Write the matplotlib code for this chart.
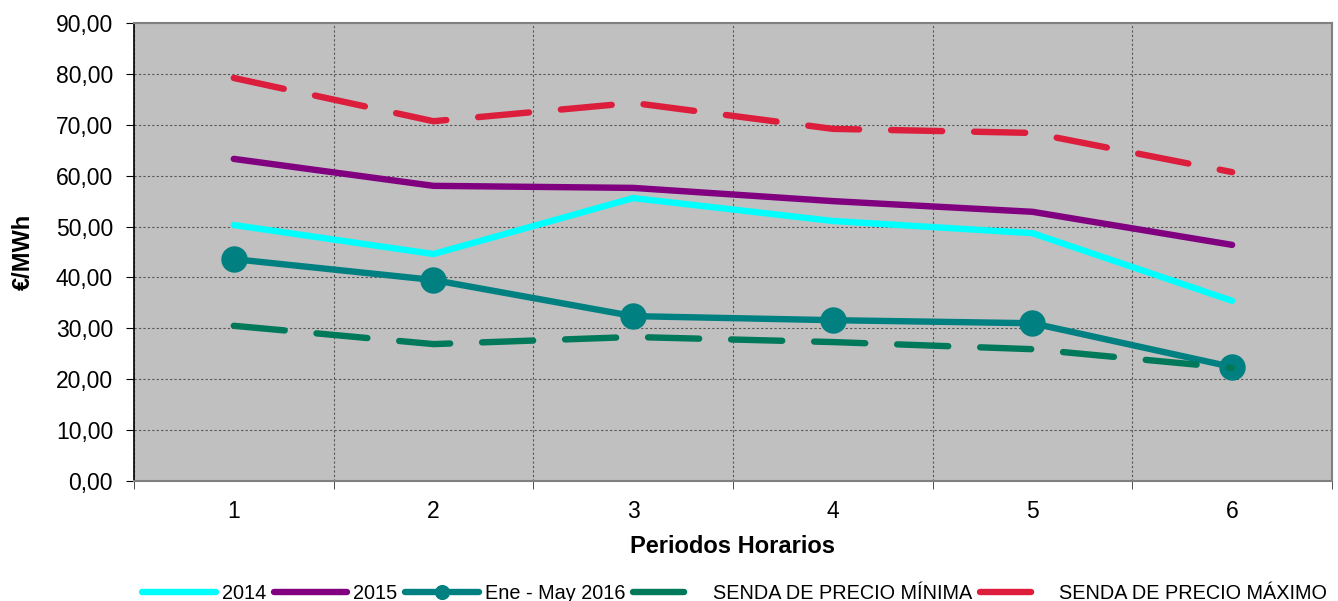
import numpy as np
import matplotlib.pyplot as plt
from matplotlib.ticker import FixedLocator, FuncFormatter

plt.rcParams['font.family'] = ['Liberation Sans', 'DejaVu Sans']

periodos = [1, 2, 3, 4, 5, 6]
v2014 = [50.3, 44.6, 55.6, 51.1, 48.7, 35.4]
v2015 = [63.3, 58.0, 57.6, 55.0, 52.9, 46.4]
v2016 = [43.6, 39.5, 32.4, 31.6, 31.0, 22.4]
senda_min = [30.5, 26.9, 28.3, 27.3, 25.9, 22.2]
senda_max = [79.2, 70.7, 74.3, 69.2, 68.4, 60.7]

fig = plt.figure(figsize=(13.38, 6.01), dpi=100)
ax = fig.add_axes([0.1001, 0.1997, 0.8954, 0.762])
ax.set_facecolor('#C0C0C0')

lw = 4.6
ax.plot(periodos, v2014, color='#00FFFF', lw=lw, label='2014', solid_capstyle='round')
ax.plot(periodos, v2015, color='#800080', lw=lw, label='2015', solid_capstyle='round')
ax.plot(periodos, v2016, color='#008080', lw=lw, marker='o', markersize=18,
        label='Ene - May 2016', solid_capstyle='round')
ax.plot(periodos, senda_min, color='#00785A', lw=lw, ls=(0, (8, 5)),
        dash_capstyle='round', label='SENDA DE PRECIO MÍNIMA')
ax.plot(periodos, senda_max, color='#DC1E3C', lw=lw, ls=(0, (8, 5)),
        dash_capstyle='round', label='SENDA DE PRECIO MÁXIMO')

ax.set_xlim(0.5, 6.5)
ax.set_ylim(0, 90)
ax.set_yticks(np.arange(0, 91, 10))
ax.yaxis.set_major_formatter(FuncFormatter(lambda v, p: f'{v:.2f}'.replace('.', ',')))
ax.set_xticks(periodos)
ax.xaxis.set_minor_locator(FixedLocator(np.arange(0.5, 6.6, 1)))
ax.tick_params(axis='x', which='major', length=0, labelsize=16.5, pad=14)
ax.tick_params(axis='x', which='minor', length=6, color='#333333')
ax.tick_params(axis='y', length=6, labelsize=16.5, pad=9)

ax.grid(axis='y', which='major', color='#555555', ls=(0, (2, 2)), lw=0.8)
ax.grid(axis='x', which='minor', color='#555555', ls=(0, (2, 2)), lw=0.8)
ax.set_axisbelow(True)

for s in ['top', 'right', 'bottom']:
    ax.spines[s].set_color('#808080')
    ax.spines[s].set_linewidth(1.5)
ax.spines['left'].set_color('black')
ax.spines['left'].set_linewidth(1.2)

ax.set_xlabel('Periodos Horarios', fontsize=17, fontweight='bold', labelpad=8)
ax.set_ylabel('€/MWh', fontsize=17, fontweight='bold', labelpad=15)

leg = fig.legend(loc='lower center', bbox_to_anchor=(0.549, -0.033), ncol=5,
                 frameon=False, handlelength=3.7, handletextpad=0.3,
                 columnspacing=0.4, markerscale=0.55,
                 prop={'size': 14.3})

fig.savefig('out.png', dpi=100)
